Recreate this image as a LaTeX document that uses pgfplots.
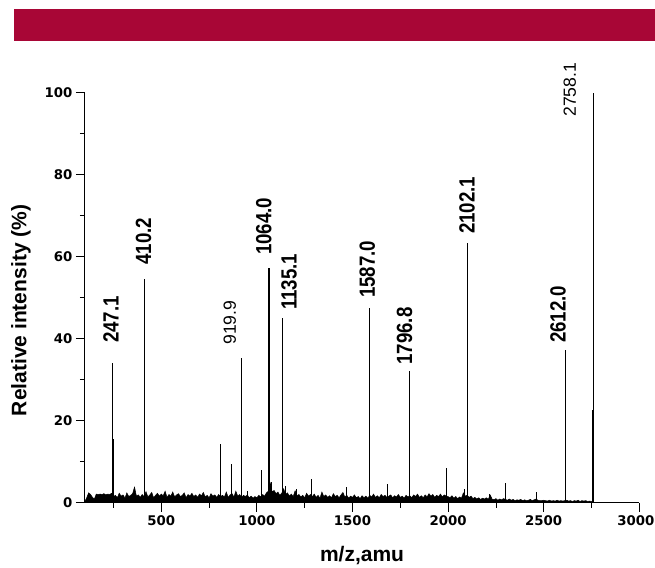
\documentclass[border=0pt]{standalone}
\usepackage{fontspec}
\setmainfont{Liberation Sans}
\newfontfamily\tickfont{DejaVu Sans}
\usepackage{pgfplots}
\usepackage{pgfplotstable}
\pgfplotsset{compat=1.18}
\definecolor{bannerred}{RGB}{168,6,54}

\pgfplotstableread{
x y
100 0.3
110 1.2
120 2.4
130 2.0
140 1.3
150 0.9
160 2.1
170 2.0
180 2.1
190 2.0
200 2.2
210 1.9
220 2.1
230 2.0
240 2.3
250 1.5
260 1.8
270 1.2
280 2.3
290 1.6
300 1.9
310 1.1
320 2.4
330 1.5
340 1.8
350 2.2
360 3.8
370 1.6
380 1.9
390 1.3
400 2.0
410 1.5
420 2.7
430 1.4
440 1.9
450 2.5
460 1.2
470 1.8
480 2.3
490 1.6
500 2.1
510 1.7
520 2.8
530 1.3
540 2.0
550 1.6
560 2.6
570 1.4
580 1.9
590 2.2
600 1.5
610 1.8
620 2.4
630 1.2
640 2.0
650 1.6
660 2.3
670 1.5
680 1.9
690 1.3
700 2.1
710 1.7
720 2.5
730 1.4
740 1.8
750 1.2
760 2.2
770 1.6
780 1.9
790 1.3
800 2.0
810 1.5
820 1.8
830 1.4
840 2.6
850 1.3
860 1.9
870 2.2
880 1.4
890 2.8
900 1.6
910 2.0
920 1.3
930 1.8
940 1.5
950 1.9
960 1.2
970 1.6
980 1.1
990 1.5
1000 1.2
1010 1.8
1020 1.4
1030 2.0
1040 1.6
1050 2.4
1060 2.8
1070 4.8
1080 2.6
1090 3.0
1100 2.2
1110 2.6
1120 1.8
1130 2.3
1140 3.4
1150 2.0
1160 2.4
1170 1.6
1180 2.1
1190 1.5
1200 2.9
1210 1.7
1220 2.0
1230 1.4
1240 1.8
1250 1.2
1260 2.3
1270 1.6
1280 2.0
1290 1.5
1300 2.1
1310 1.3
1320 1.8
1330 1.1
1340 2.6
1350 1.5
1360 1.9
1370 1.3
1380 1.7
1390 1.2
1400 2.2
1410 1.5
1420 1.8
1430 1.2
1440 1.9
1450 2.5
1460 1.4
1470 1.8
1480 1.1
1490 1.6
1500 1.3
1510 1.9
1520 1.2
1530 1.5
1540 1.0
1550 1.7
1560 1.2
1570 1.6
1580 1.1
1590 1.8
1600 1.4
1610 2.1
1620 1.3
1630 1.7
1640 1.2
1650 2.0
1660 1.5
1670 1.8
1680 1.3
1690 1.6
1700 1.9
1710 1.2
1720 1.7
1730 1.4
1740 2.0
1750 1.3
1760 1.6
1770 1.1
1780 1.8
1790 1.4
1800 1.7
1810 1.2
1820 1.9
1830 1.5
1840 2.1
1850 1.3
1860 1.7
1870 1.2
1880 1.9
1890 1.4
1900 2.2
1910 1.6
1920 2.0
1930 1.3
1940 1.8
1950 1.5
1960 2.1
1970 1.4
1980 1.9
1990 1.6
2000 1.5
2010 1.2
2020 1.7
2030 1.1
2040 1.5
2050 1.0
2060 1.4
2070 1.1
2080 2.4
2090 1.6
2100 1.8
2110 1.3
2120 1.6
2130 1.0
2140 1.3
2150 0.9
2160 1.2
2170 0.8
2180 1.1
2190 0.9
2200 1.2
2210 0.8
2220 1.9
2230 0.9
2240 0.7
2250 1.0
2260 0.6
2270 0.9
2280 0.7
2290 1.0
2300 0.8
2310 0.6
2320 0.9
2330 0.6
2340 0.8
2350 0.5
2360 0.7
2370 0.6
2380 0.8
2390 0.5
2400 0.7
2410 0.5
2420 0.6
2430 0.8
2440 0.5
2450 0.7
2460 0.9
2470 0.6
2480 0.5
2490 0.5
2500 0.6
2510 0.5
2520 0.4
2530 0.6
2540 0.4
2550 0.5
2560 0.4
2570 0.6
2580 0.4
2590 0.5
2600 0.4
2610 0.5
2620 0.6
2630 0.4
2640 0.5
2650 0.3
2660 0.5
2670 0.4
2680 0.6
2690 0.3
2700 0.5
2710 0.4
2720 0.5
2730 0.3
2740 0.4
2750 0.3
2760 0.2
}\noisetable

\pgfplotstableread{
x y
244 16.0
246 16.8
247.1 34.1
249 15.5
410.2 54.6
807 14.2
868 9.4
919.9 35.2
950 2.9
1023 8.0
1058 56.5
1060 56.8
1062 57.2
1064.0 57.2
1066 56.9
1068 56.5
1074 5.0
1135.1 45.0
1147 4.0
1208 3.3
1286 5.8
1471 3.8
1587.0 47.4
1682 4.5
1796.8 32.0
1989 8.4
2088 3.3
2102.1 63.3
2214 2.2
2299 4.7
2461 2.7
2612.0 37.2
2756 22.5
2758.1 100
2760 22.5
}\peaktable

\tikzset{
  pl/.style={rotate=90, anchor=west, inner sep=0pt, font=\fontsize{22}{22}\selectfont\bfseries},
  pr/.style={rotate=90, anchor=west, inner sep=0pt, font=\fontsize{17.6}{18}\selectfont},
}

\begin{document}
\begin{tikzpicture}
\path[use as bounding box] (0,0) rectangle (655pt,567pt);
\fill[bannerred] (14pt,526pt) rectangle (655pt,558pt);
\begin{axis}[
  at={(84.8pt,64.3pt)}, anchor=south west,
  scale only axis, width=554.5pt, height=410pt,
  xmin=100, xmax=3000, ymin=0, ymax=100,
  axis x line*=bottom, axis y line*=left,
  axis line style={line width=0.8pt},
  xtick={500,1000,...,3000}, minor xtick={250,750,...,2750},
  xticklabels={500,1000,1500,2000,2500,3000\hspace*{7pt}},
  ytick={0,20,...,100}, minor ytick={10,30,...,90},
  tick align=outside,
  major tick length=9pt, minor tick length=5pt,
  every tick/.style={line width=0.8pt, black},
  /pgf/number format/assume math mode=true,
  /pgf/number format/1000 sep={},
  tick label style={font=\fontsize{13.3}{14}\selectfont\tickfont\bfseries},
  clip=false,
  xlabel={m/z,amu}, ylabel={Relative intensity (\%)},
  label style={font=\fontsize{21}{24}\selectfont\bfseries},
  xlabel style={at={(rel axis cs:0.5,-0.1446)}, anchor=base},
  ylabel style={at={(rel axis cs:-0.115,0.469)}, anchor=center},
]
\addplot[fill=black, draw=black, line width=0.5pt, mark=none] table[x=x,y=y] {\noisetable} \closedcycle;
\addplot[ycomb, black, line width=0.9pt, mark=none] table[x=x,y=y] {\peaktable};

\node[pl] at (axis cs:237,38.95) {\scalebox{0.85}[1]{247.1}};
\node[pl] at (axis cs:407,58.0) {\scalebox{0.85}[1]{410.2}};
\node[pr] at (axis cs:859,38.5) {919.9};
\node[pl] at (axis cs:1036,60.4) {\scalebox{0.85}[1]{1064.0}};
\node[pl] at (axis cs:1168,47.0) {\scalebox{0.85}[1]{1135.1}};
\node[pl] at (axis cs:1578,49.9) {\scalebox{0.85}[1]{1587.0}};
\node[pl] at (axis cs:1772,33.6) {\scalebox{0.85}[1]{1796.8}};
\node[pl] at (axis cs:2099,65.5) {\scalebox{0.85}[1]{2102.1}};
\node[pl] at (axis cs:2575,38.95) {\scalebox{0.85}[1]{2612.0}};
\node[pr] at (axis cs:2636,94.1) {2758.1};
\end{axis}
\end{tikzpicture}
\end{document}
